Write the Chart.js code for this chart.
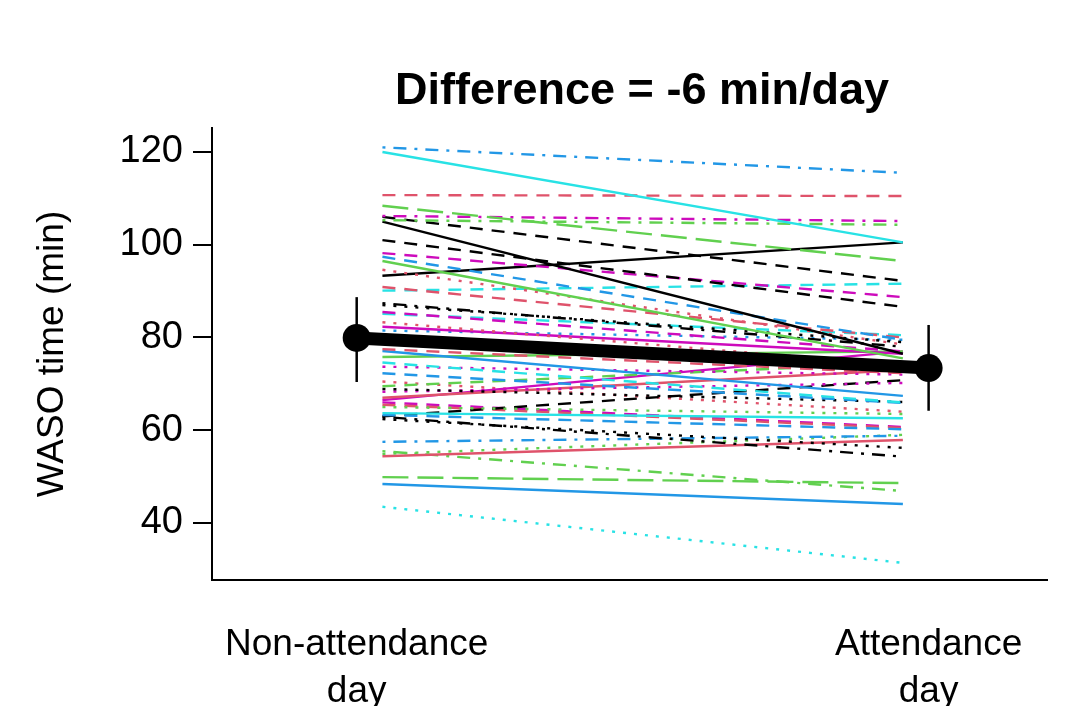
<!DOCTYPE html>
<html>
<head>
<meta charset="utf-8">
<script src="https://cdn.jsdelivr.net/npm/chart.js@4"></script>
<style>
html, body { margin: 0; padding: 0; background: #fff; }
</style>
</head>
<body>
<canvas id="chart" width="1077" height="706"></canvas>
<script>
// one value per participant
const nonAttendance = [121.0, 120.0, 110.7, 108.4, 106.2, 105.3, 106.0, 105.0, 101.0, 98.2,
    97.4, 96.5, 94.6, 93.3, 90.9, 90.1, 87.4, 87.0, 85.5, 85.1,
    83.3, 82.3, 81.5, 77.5, 77.1, 75.8, 74.6, 73.7, 72.3, 69.5,
    68.9, 68.3, 67.0, 66.5, 65.0, 63.7, 63.3, 62.9, 62.4, 63.0,
    65.5, 66.0, 57.5, 54.9, 54.4, 49.9, 55.5, 48.4, 43.5, 70.5];
const attendance = [115.5, 100.5, 110.5, 96.5, 105.1, 104.3, 92.2, 76.5, 86.6, 88.7,
    79.5, 75.5, 78.5, 100.5, 80.0, 91.6, 78.0, 79.0, 77.0, 80.5,
    74.0, 76.5, 79.5, 72.3, 67.4, 77.0, 66.0, 72.0, 65.9, 74.5,
    66.1, 70.2, 73.0, 77.0, 63.5, 62.6, 60.2, 54.3, 56.2, 70.8,
    60.5, 60.7, 58.8, 59.0, 57.9, 48.6, 46.9, 44.1, 31.4, 64.0];
const lineColour = ['b', 'c', 'r', 'g', 'm', 'g', 'k', 'k', 'k', 'm',
    'b', 'g', 'r', 'k', 'r', 'c', 'k', 'k', 'm', 'c',
    'r', 'm', 'b', 'r', 'b', 'g', 'c', 'm', 'b', 'g',
    'k', 'm', 'r', 'm', 'g', 'c', 'b', 'k', 'k', 'k',
    'r', 'm', 'b', 'g', 'r', 'g', 'g', 'b', 'c', 'r'];
const lineType = ['dotdash', 'solid', 'dashed', 'longdash', 'dotdash', 'dotdash', 'dashed', 'solid', 'dashed', 'dashed',
    'dashed', 'solid', 'dotted', 'solid', 'dashed', 'dashed', 'dotdash', 'dotted', 'dashed', 'dashed',
    'dotted', 'solid', 'dotted', 'dashed', 'solid', 'solid', 'dashed', 'dotted', 'dashed', 'dashed',
    'dotted', 'dotted', 'solid', 'solid', 'dotted', 'solid', 'dashed', 'dotdash', 'dotted', 'dashed',
    'dashed', 'dashed', 'dotdash', 'dotted', 'solid', 'longdash', 'dotdash', 'solid', 'dotted', 'dotted'];

const groupLabels = [['Non-attendance', 'day'], ['Attendance', 'day']];
const meanValues = [79.9, 73.4];
const lowerBar = [70.4, 64.2];
const upperBar = [88.7, 82.7];
const yTicks = [40, 60, 80, 100, 120];
const titleText = 'Difference = -6 min/day';

const palette = {
    k: '#000000',
    r: '#DF536B',
    g: '#61D04F',
    b: '#2297E6',
    c: '#28E2E5',
    m: '#CD0BBC'
};
const dashes = {
    solid: [],
    dashed: [13, 9],
    dotted: [3, 8],
    dotdash: [3, 8, 13, 8],
    longdash: [26, 9]
};

const datasets = [];

// group means, drawn on top
datasets.push({
    data: [{ x: 1, y: meanValues[0] }, { x: 2, y: meanValues[1] }],
    showLine: true,
    borderColor: '#000',
    borderWidth: 13,
    pointRadius: 14,
    pointBackgroundColor: '#000',
    pointBorderWidth: 0
});
[0, 1].forEach(i => {
    datasets.push({
        data: [{ x: i + 1, y: lowerBar[i] }, { x: i + 1, y: upperBar[i] }],
        showLine: true,
        borderColor: '#000',
        borderWidth: 2.5,
        pointRadius: 0
    });
});

nonAttendance.forEach((v, i) => {
    datasets.push({
        data: [{ x: 1.045, y: v }, { x: 1.955, y: attendance[i] }],
        showLine: true,
        borderColor: palette[lineColour[i]],
        borderDash: dashes[lineType[i]],
        borderWidth: 2.4,
        pointRadius: 0
    });
});

const titlePlugin = {
    id: 'plotTitle',
    afterDraw(chart) {
        const c = chart.ctx;
        c.save();
        c.font = 'bold 45px "Liberation Sans", Arial, sans-serif';
        c.fillStyle = '#000';
        c.textAlign = 'center';
        c.textBaseline = 'middle';
        c.fillText(titleText, 642, 92);
        c.restore();
    }
};

const ctx = document.getElementById('chart');

new Chart(ctx, {
    type: 'scatter',
    data: { datasets: datasets },
    options: {
        responsive: false,
        animation: false,
        events: [],
        layout: {
            padding: { top: 128, right: 30, left: 0, bottom: 0 }
        },
        scales: {
            x: {
                type: 'linear',
                min: 0.747,
                max: 2.207,
                afterFit: s => { s.height = 126; },
                afterBuildTicks: s => { s.ticks = [{ value: 1 }, { value: 2 }]; },
                border: { display: true, color: '#000', width: 2 },
                grid: { display: false },
                ticks: {
                    color: '#000',
                    padding: 33,
                    maxRotation: 0,
                    autoSkip: false,
                    font: { family: '"Liberation Sans", Arial, sans-serif', size: 37, lineHeight: 1.27 },
                    callback: v => groupLabels[v - 1]
                }
            },
            y: {
                min: 27.71,
                max: 125.17,
                afterFit: s => { s.width = 212; },
                afterBuildTicks: s => { s.ticks = yTicks.map(v => ({ value: v })); },
                border: { display: true, color: '#000', width: 2 },
                grid: {
                    drawOnChartArea: false,
                    drawTicks: true,
                    tickLength: 19,
                    color: '#000',
                    lineWidth: 2
                },
                ticks: {
                    color: '#000',
                    padding: 10,
                    font: { family: '"Liberation Sans", Arial, sans-serif', size: 38 }
                },
                title: {
                    display: true,
                    text: 'WASO time (min)',
                    color: '#000',
                    padding: { top: 31, bottom: 0 },
                    font: { family: '"Liberation Sans", Arial, sans-serif', size: 37, lineHeight: 1.2 }
                }
            }
        },
        plugins: {
            legend: { display: false },
            tooltip: { enabled: false }
        }
    },
    plugins: [titlePlugin]
});
</script>
</body>
</html>
